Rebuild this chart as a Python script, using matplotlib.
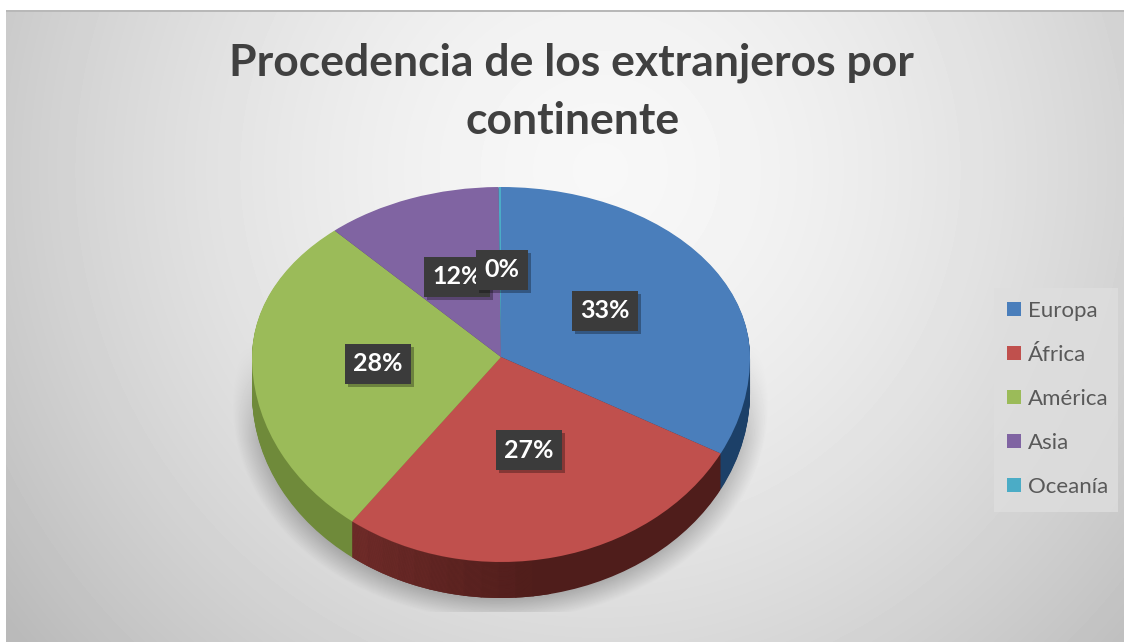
import numpy as np
import matplotlib
matplotlib.use('Agg')
import matplotlib.pyplot as plt
import matplotlib.patheffects as pe
from matplotlib.colors import to_rgb
from matplotlib.patches import Patch, Rectangle, Wedge

continents = ['Europa', 'África', 'América', 'Asia', 'Oceanía']
shares = [32.8, 27.4, 28.15, 11.5, 0.15]
pct_labels = ['33%', '27%', '28%', '12%', '0%']

top_colors = ['#4a7ebb', '#c0504d', '#9bbb59', '#8064a2', '#4bacc6']
side_colors = ['#1c4068', '#4f1d1b', '#6f8a3a', '#4f3c68', '#2d6a7c']

W, H = 1124, 642
plt.rcParams['font.family'] = ['Lato', 'DejaVu Sans']

fig = plt.figure(figsize=(W / 100, H / 100), dpi=100, facecolor='white')

# background with soft light spot and the pie's shadow
bg = fig.add_axes([0, 0, 1, 1])
yy, xx = np.mgrid[0:H, 0:W]
d = np.sqrt(((xx - 600) / 620) ** 2 + ((yy - 170) / 620) ** 2)
img = 0.97 - 0.18 * np.clip(d, 0, 1.2) ** 1.6
e = np.sqrt(((xx - 500) / 268) ** 2 + ((yy - 405) / 215) ** 2)
shadow = np.clip((1.0 - e) / 0.1, 0, 1) * np.clip((yy - 340) / 100, 0, 1) * (yy < 612)
img = img - 0.2 * shadow
img[:10, :] = 1
img[:, :6] = 1
img[10:12, 6:] = 0.72
bg.imshow(img, cmap='gray', vmin=0, vmax=1, extent=[0, W, H, 0], aspect='auto')
bg.axis('off')

# pie axes, 1 unit = 249 px across, 170 px up and 205 px down from the centre
cx, cy, rx, up, down = 501, 357, 249, 170, 205
y_bottom = -1.3
ax = fig.add_axes([(cx - rx) / W, (H - cy - down * 1.3) / H, 2 * rx / W, (up + down * 1.3) / H])
ax.patch.set_alpha(0)


def squash(y):
    y = np.asarray(y, dtype=float)
    return np.where(y > 0, y * up, y * down)


def unsquash(v):
    v = np.asarray(v, dtype=float)
    return np.where(v > 0, v / up, v / down)


depth = 36 / down
light = np.array(to_rgb('#742e2b'))
dark = np.array(to_rgb(side_colors[1]))
for off in np.linspace(depth, 0.005, 40):
    layer, _ = ax.pie(shares, colors=side_colors, startangle=90, counterclock=False,
                      center=(0, -off), radius=1, frame=True, normalize=True)
    # left end of the red wall is lighter
    t0 = layer[1].theta1
    for k in range(12):
        c = light + (dark - light) * k / 11
        ax.add_patch(Wedge((0, -off), 1, t0 + k * 4, t0 + (k + 1) * 4 + 0.3, fc=c, ec='none'))
wedges, _ = ax.pie(shares, colors=top_colors, startangle=90, counterclock=False,
                   center=(0, 0), radius=1, frame=True, normalize=True)
ax.set_aspect('auto')
ax.set_yscale('function', functions=(squash, unsquash))
ax.set_xlim(-1, 1)
ax.set_ylim(y_bottom, 1)
ax.axis('off')

# labels sit on top of everything
label_x = [605, 529, 378, 457, 502]
label_y = [311, 450, 364, 277, 270]
for i in range(5):
    t = fig.text(label_x[i] / W, 1 - label_y[i] / H, pct_labels[i], color='white',
                 fontsize=18, fontweight='bold', ha='center', va='center', zorder=5 + i,
                 bbox=dict(boxstyle='square,pad=0.33', fc='#3b3b3b', ec='none'))
    t.get_bbox_patch().set_path_effects([
        pe.SimplePatchShadow(offset=(2, -2), shadow_rgbFace='black', alpha=0.3), pe.Normal()])

fig.text(571 / W, 1 - 63 / H, 'Procedencia de los extranjeros por', color='#404040',
         fontsize=32, fontweight='bold', ha='center', va='center')
fig.text(573 / W, 1 - 121 / H, 'continente', color='#404040',
         fontsize=32, fontweight='bold', ha='center', va='center')

# legend panel is narrower than the frame the legend would draw
fig.add_artist(Rectangle((994 / W, 1 - 512 / H), 124 / W, 224 / H, transform=fig.transFigure,
                         fc='#dedede', ec='none', alpha=0.8))
handles = [Patch(fc=c, ec='none') for c in top_colors]
leg = fig.legend(handles, continents, loc='center left', bbox_to_anchor=(994 / W, 1 - 399 / H),
                 frameon=False, fontsize=16, labelcolor='#595959', handlelength=0.6, handleheight=0.6,
                 handletextpad=0.32, labelspacing=1.08, borderpad=0.6, borderaxespad=0)

fig.savefig('out.png', dpi=100)
